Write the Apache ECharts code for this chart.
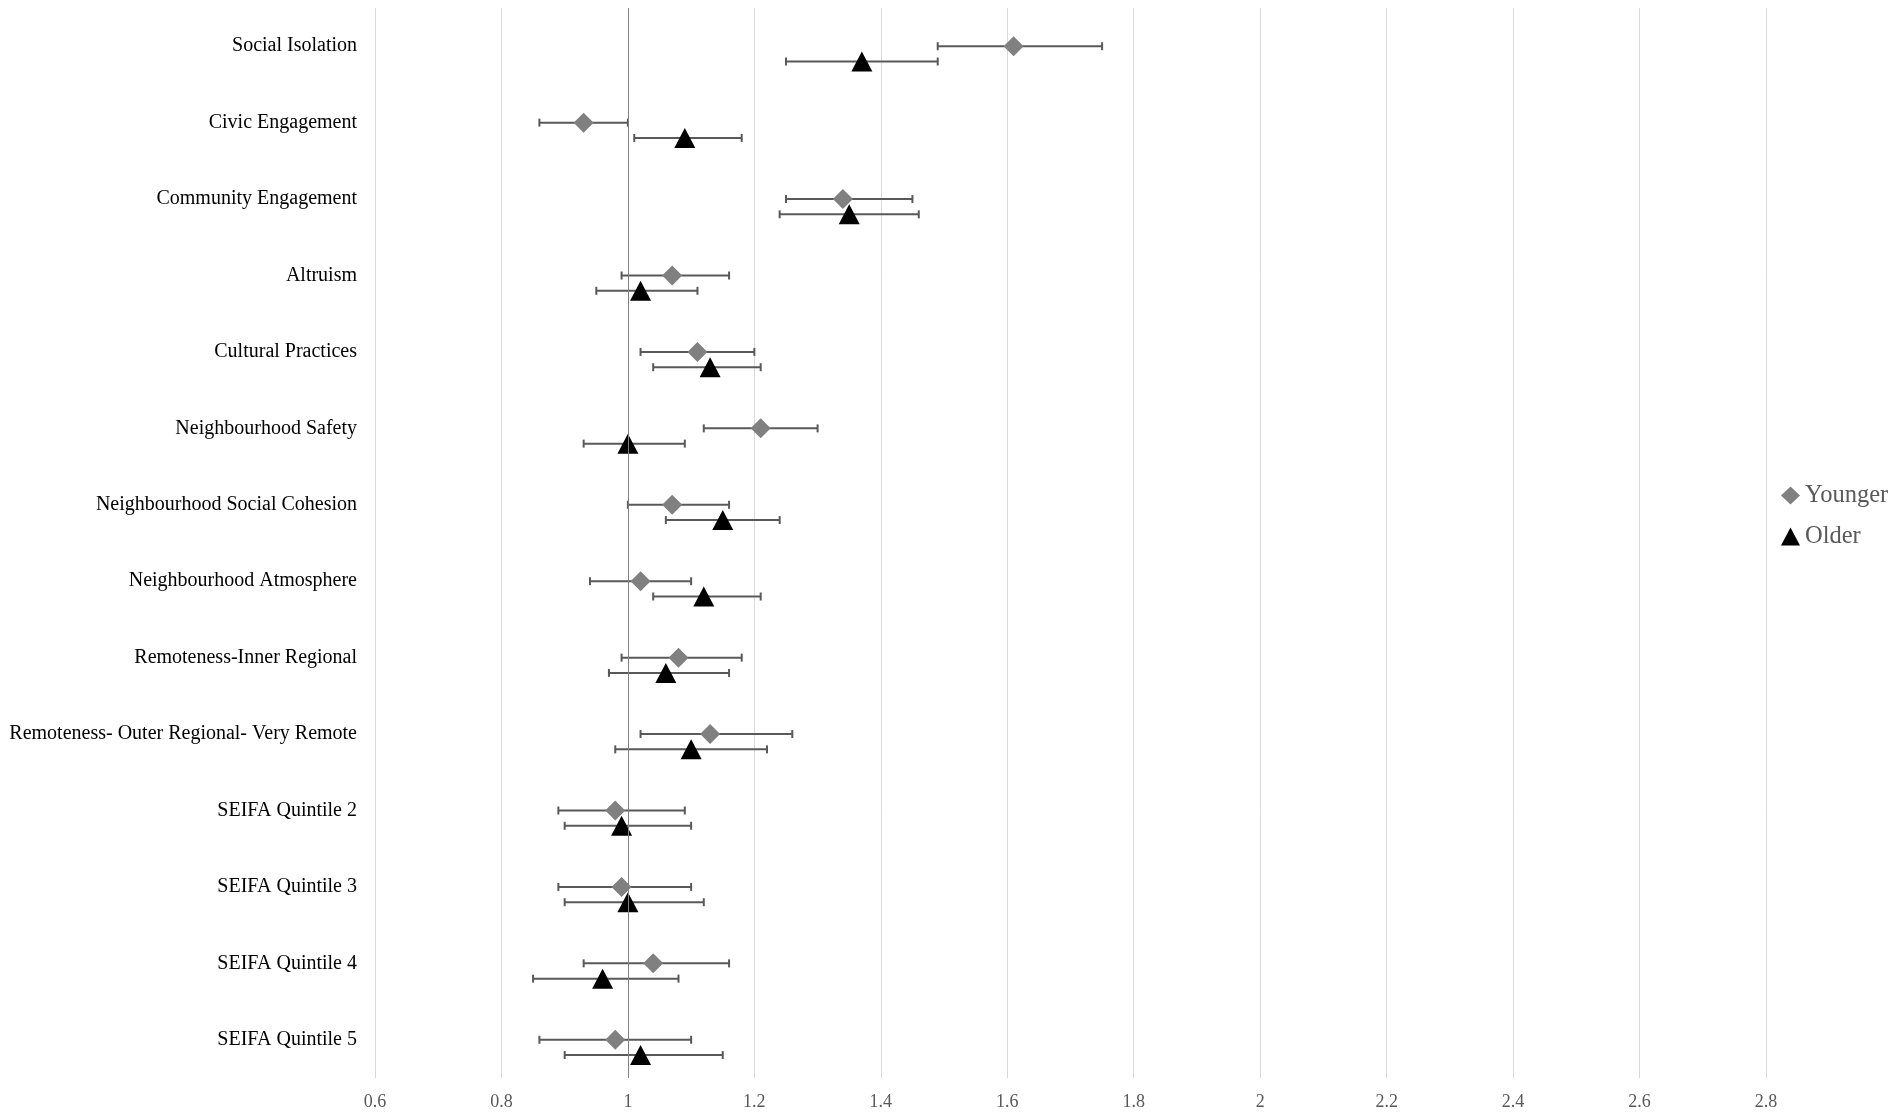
<!DOCTYPE html>
<html>
<head>
<meta charset="utf-8">
<script src="https://cdn.jsdelivr.net/npm/echarts@6/dist/echarts.min.js"></script>
<style>
html,body{margin:0;padding:0;background:#fff;}
#chart{width:1902px;height:1115px;}
</style>
</head>
<body>
<div id="chart"></div>
<script>
const categories = [
  'Social Isolation',
  'Civic Engagement',
  'Community Engagement',
  'Altruism',
  'Cultural Practices',
  'Neighbourhood Safety',
  'Neighbourhood Social Cohesion',
  'Neighbourhood Atmosphere',
  'Remoteness-Inner Regional',
  'Remoteness- Outer Regional- Very Remote',
  'SEIFA Quintile 2',
  'SEIFA Quintile 3',
  'SEIFA Quintile 4',
  'SEIFA Quintile 5'
];
const youngerOR = [1.61, 0.93, 1.34, 1.07, 1.11, 1.21, 1.07, 1.02, 1.08, 1.13, 0.98, 0.99, 1.04, 0.98];
const youngerLo = [1.49, 0.86, 1.25, 0.99, 1.02, 1.12, 1.00, 0.94, 0.99, 1.02, 0.89, 0.89, 0.93, 0.86];
const youngerHi = [1.75, 1.00, 1.45, 1.16, 1.20, 1.30, 1.16, 1.10, 1.18, 1.26, 1.09, 1.10, 1.16, 1.10];
const olderOR   = [1.37, 1.09, 1.35, 1.02, 1.13, 1.00, 1.15, 1.12, 1.06, 1.10, 0.99, 1.00, 0.96, 1.02];
const olderLo   = [1.25, 1.01, 1.24, 0.95, 1.04, 0.93, 1.06, 1.04, 0.97, 0.98, 0.90, 0.90, 0.85, 0.90];
const olderHi   = [1.49, 1.18, 1.46, 1.11, 1.21, 1.09, 1.24, 1.21, 1.16, 1.22, 1.10, 1.12, 1.08, 1.15];
const xMin = 0.6, xMax = 2.8, xStep = 0.2;

const N = categories.length;
const yYoung = i => N - i - 0.5;
const yOld = i => N - i - 0.7;

const youngPts = youngerOR.map((v, i) => [v, yYoung(i)]);
const oldPts = olderOR.map((v, i) => [v, yOld(i)]);
const youngErr = youngerLo.map((lo, i) => [lo, youngerHi[i], yYoung(i)]);
const oldErr = olderLo.map((lo, i) => [lo, olderHi[i], yOld(i)]);

function errRender(params, api) {
  const y = api.value(2);
  const p1 = api.coord([api.value(0), y]);
  const p2 = api.coord([api.value(1), y]);
  const h = 4;
  const style = { stroke: '#595959', lineWidth: 2 };
  return {
    type: 'group',
    children: [
      { type: 'line', shape: { x1: p1[0], y1: p1[1], x2: p2[0], y2: p2[1] }, style: style },
      { type: 'line', shape: { x1: p1[0], y1: p1[1] - h, x2: p1[0], y2: p1[1] + h }, style: style },
      { type: 'line', shape: { x1: p2[0], y1: p2[1] - h, x2: p2[0], y2: p2[1] + h }, style: style }
    ]
  };
}

const chart = echarts.init(document.getElementById('chart'));
chart.setOption({
  animation: false,
  backgroundColor: '#fff',
  textStyle: { fontFamily: 'Liberation Serif' },
  grid: { left: 375, right: 136, top: 8, bottom: 37, containLabel: false, outerBoundsMode: 'none' },
  legend: {
    orient: 'vertical',
    left: 1781,
    top: 483,
    padding: 0,
    itemGap: 16,
    itemWidth: 19,
    itemHeight: 18,
    textStyle: { fontSize: 24.5, color: '#595959', fontFamily: 'Liberation Serif', lineHeight: 24 },
    data: [
      { name: 'Younger', icon: 'diamond' },
      { name: 'Older', icon: 'triangle' }
    ]
  },
  xAxis: {
    type: 'value',
    min: xMin,
    max: xMax,
    interval: xStep,
    axisLine: { show: false },
    axisTick: { show: false },
    axisLabel: {
      fontSize: 18,
      color: '#595959',
      fontFamily: 'Liberation Serif',
      margin: 15,
      formatter: v => String(Math.round(v * 10) / 10)
    },
    splitLine: { show: true, lineStyle: { color: '#d9d9d9', width: 1 } }
  },
  yAxis: {
    type: 'value',
    min: 0,
    max: N,
    interval: 0.5,
    axisLine: { show: false },
    axisTick: { show: false },
    splitLine: { show: false },
    axisLabel: {
      fontSize: 20,
      color: '#000',
      fontFamily: 'Liberation Serif',
      margin: 18,
      padding: [2, 0, 0, 0],
      formatter: v => {
        const k = N - 0.5 - v;
        const r = Math.round(k);
        if (Math.abs(k - r) < 1e-6 && r >= 0 && r < N) return categories[r];
        return '';
      }
    }
  },
  series: [
    {
      type: 'custom',
      name: 'YoungerErr',
      renderItem: errRender,
      encode: { x: [0, 1], y: 2 },
      data: youngErr,
      silent: true,
      z: 2,
      markLine: {
        silent: true,
        symbol: 'none',
        label: { show: false },
        lineStyle: { color: '#808080', width: 1, type: 'solid' },
        data: [{ xAxis: 1 }]
      }
    },
    {
      type: 'custom',
      name: 'OlderErr',
      renderItem: errRender,
      encode: { x: [0, 1], y: 2 },
      data: oldErr,
      silent: true,
      z: 2
    },
    {
      type: 'scatter',
      name: 'Younger',
      symbol: 'diamond',
      symbolSize: 20,
      itemStyle: { color: '#808080', opacity: 1 },
      data: youngPts,
      z: 3
    },
    {
      type: 'scatter',
      name: 'Older',
      symbol: 'triangle',
      symbolSize: [21, 20],
      itemStyle: { color: '#000000', opacity: 1 },
      data: oldPts,
      z: 4
    }
  ]
});
</script>
</body>
</html>
